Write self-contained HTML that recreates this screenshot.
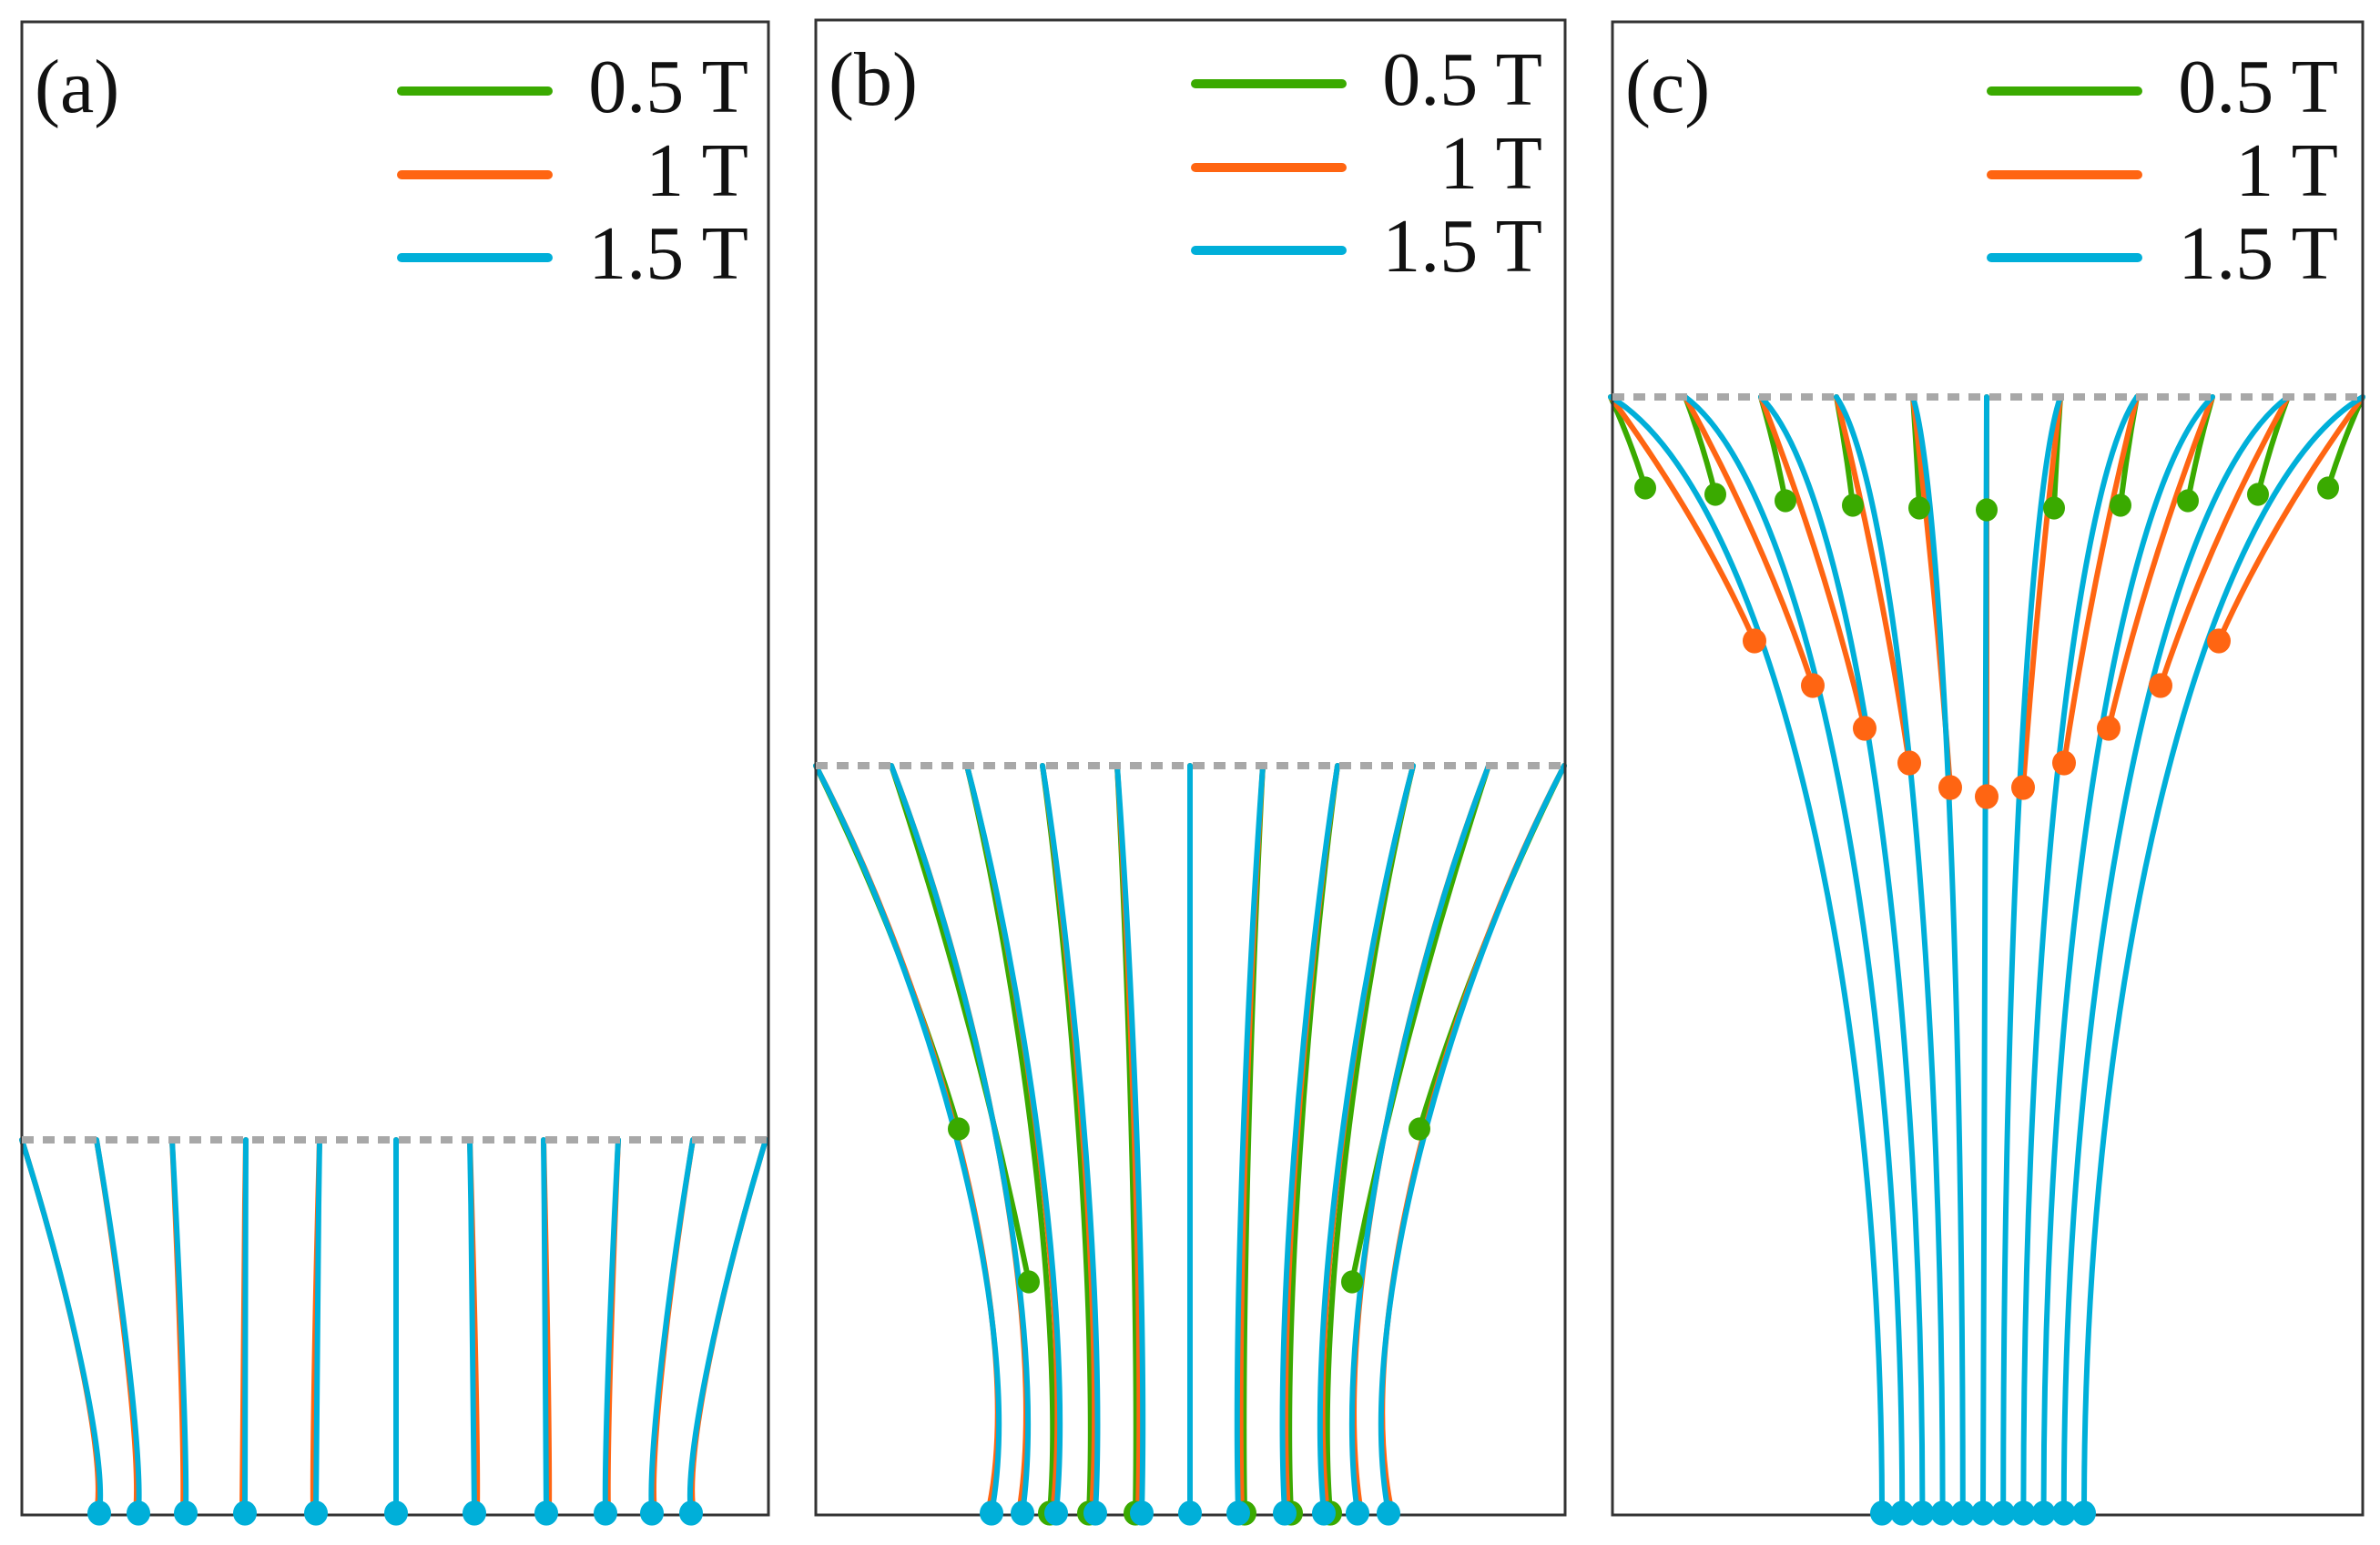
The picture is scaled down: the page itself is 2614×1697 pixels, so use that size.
<!DOCTYPE html>
<html><head><meta charset="utf-8"><style>
html,body{margin:0;padding:0;background:#fff;}
svg{display:block;}
text{font-family:"Liberation Serif",serif;fill:#111;}
</style></head><body>
<svg id="s" width="2614" height="1697" viewBox="0 0 2614 1697" xmlns="http://www.w3.org/2000/svg">
<rect x="0" y="0" width="2614" height="1697" fill="#fff"/>
<g id="curves"></g>
<g fill="none" stroke="#333" stroke-width="3">
<rect x="24" y="24" width="820" height="1640"/>
<rect x="896" y="22" width="823" height="1642"/>
<rect x="1771" y="24" width="824" height="1640"/>
</g>
<g stroke="#a8a8a8" stroke-width="8" stroke-dasharray="13 10">
<line x1="24" y1="1252" x2="844" y2="1252"/>
<line x1="896" y1="841" x2="1719" y2="841"/>
<line x1="1771" y1="436" x2="2595" y2="436"/>
</g>
<g id="dots"></g>
<g stroke-width="10" stroke-linecap="round">
<line x1="441" y1="100" x2="602" y2="100" stroke="#3aaa00"/>
<line x1="441" y1="192" x2="602" y2="192" stroke="#ff6512"/>
<line x1="441" y1="283" x2="602" y2="283" stroke="#00afd9"/>
<line x1="1313" y1="92" x2="1474" y2="92" stroke="#3aaa00"/>
<line x1="1313" y1="184" x2="1474" y2="184" stroke="#ff6512"/>
<line x1="1313" y1="275" x2="1474" y2="275" stroke="#00afd9"/>
<line x1="2187" y1="100" x2="2348" y2="100" stroke="#3aaa00"/>
<line x1="2187" y1="192" x2="2348" y2="192" stroke="#ff6512"/>
<line x1="2187" y1="283" x2="2348" y2="283" stroke="#00afd9"/>
</g>
<g font-size="84" text-anchor="end">
<text x="822" y="123">0.5 T</text><text x="822" y="215">1 T</text><text x="822" y="306">1.5 T</text>
<text x="1694" y="115">0.5 T</text><text x="1694" y="207">1 T</text><text x="1694" y="298">1.5 T</text>
<text x="2568" y="123">0.5 T</text><text x="2568" y="215">1 T</text><text x="2568" y="306">1.5 T</text>
</g>
<g font-size="84">
<text x="38" y="123">(a)</text>
<text x="910" y="115">(b)</text>
<text x="1785" y="123">(c)</text>
</g>
</svg>
<script>
var NS="http://www.w3.org/2000/svg";
var C=document.getElementById("curves"),D=document.getElementById("dots");
var G="#3aaa00",O="#ff6512",B="#00afd9";
function path(d,col,w){var p=document.createElementNS(NS,"path");p.setAttribute("d",d);p.setAttribute("fill","none");p.setAttribute("stroke",col);p.setAttribute("stroke-width",w);p.setAttribute("stroke-linecap","round");C.appendChild(p);}
function dot(x,y,col,r){var c=document.createElementNS(NS,"ellipse");c.setAttribute("cx",x);c.setAttribute("cy",y);c.setAttribute("rx",r);c.setAttribute("ry",r*1.05);c.setAttribute("fill",col);D.appendChild(c);}
function neck(xt,yt,xb,yb,k,a1,a2){a1=a1||0.3;a2=a2||0.75;var H=yb-yt,xm=xb+k*(xb-xt);
return "M"+xt+","+yt+" C"+(xt+0.55*(xm-xt))+","+(yt+a1*H)+" "+xm+","+(yt+a2*H)+" "+xb+","+yb;}
function quad(xt,yt,xe,ye,f){return "M"+xt+","+yt+" Q"+(xt+f*(xe-xt))+","+((yt+ye)/2)+" "+xe+","+ye;}
// panel a
var at=[24,106,189,270,351,435,516,597,679,761,841],ab=[109,152,204,269,347,435,521,600,665,716,759];
for(var i=0;i<11;i++){var s=i<5?-1:(i>5?1:0);path(neck(at[i],1252,ab[i]+s*3,1662,0.14,0.4,0.85),O,6);}
for(var i=0;i<11;i++){path(neck(at[i],1252,ab[i],1662,0.1,0.4,0.85),B,6);}
for(var i=0;i<11;i++)dot(ab[i],1662,B,13);
// panel b
var cb=1307,to=[411,328,245,162,80,0],bo=[218,184,147,104,53,0];
var bt=[],bb=[];for(var i=0;i<11;i++){bt.push(cb+(i<5?-to[i]:(i==5?0:to[10-i])));bb.push(cb+(i<5?-bo[i]:(i==5?0:bo[10-i])));}
var gd=[[1053,1240],[1130,1408],null,null,null,null,null,null,null,[1485,1408],[1559,1240]];
for(var i=0;i<11;i++){var s=i<5?-1:(i>5?1:0);
 if(gd[i]) path(quad(bt[i],841,gd[i][0],gd[i][1],0.62),G,6);
 else path(neck(bt[i],841,bb[i]+s*7,1662,0.18),G,6);}
for(var i=0;i<11;i++){var s=i<5?-1:(i>5?1:0);path(neck(bt[i],841,bb[i]+s*4,1662,0.24),O,6);}
for(var i=0;i<11;i++)path(neck(bt[i],841,bb[i],1662,0.2),B,6);
for(var i=0;i<11;i++){var s=i<5?-1:(i>5?1:0);if(!gd[i]&&i!=5)dot(bb[i]+s*7,1662,G,13);}
for(var i=0;i<11;i++)dot(bb[i],1662,B,13);
for(var i=0;i<11;i++)if(gd[i])dot(gd[i][0],gd[i][1],G,12);
// panel c
var cc=2182,co=[413,331,248,165,81,0];
var ct=[],cbm=[];for(var i=0;i<11;i++){ct.push(i<=5?cc-co[i]:cc+co[10-i]);cbm.push(2067+22.2*i);}
var gc=[[1807,536],[1884,543],[1961,550],[2035,555],[2108,558],[2182,560]];
var oc=[[1927,704],[1991,753],[2048,800],[2097,838],[2142,865],[2182,875]];
function mir(a,i){return i<=5?a[i]:[2*cc-a[10-i][0],a[10-i][1]];}
for(var i=0;i<11;i++){var g=mir(gc,i);path(quad(ct[i],436,g[0],g[1],0.6),G,6);}
for(var i=0;i<11;i++){var o=mir(oc,i);path(quad(ct[i],436,o[0],o[1],0.62),O,6);}
for(var i=0;i<11;i++){var xt=ct[i],xb=cbm[i],H=1662-436;
 path("M"+xt+",436 C"+(xt+0.55*(xb-xt))+","+(436+0.08*H)+" "+xb+","+(436+0.5*H)+" "+xb+",1662",B,6);}
for(var i=0;i<11;i++){var g=mir(gc,i);dot(g[0],g[1],G,12);}
for(var i=0;i<11;i++){var o=mir(oc,i);dot(o[0],o[1],O,13);}
for(var i=0;i<11;i++)dot(cbm[i],1662,B,13);
</script>
</body></html>
